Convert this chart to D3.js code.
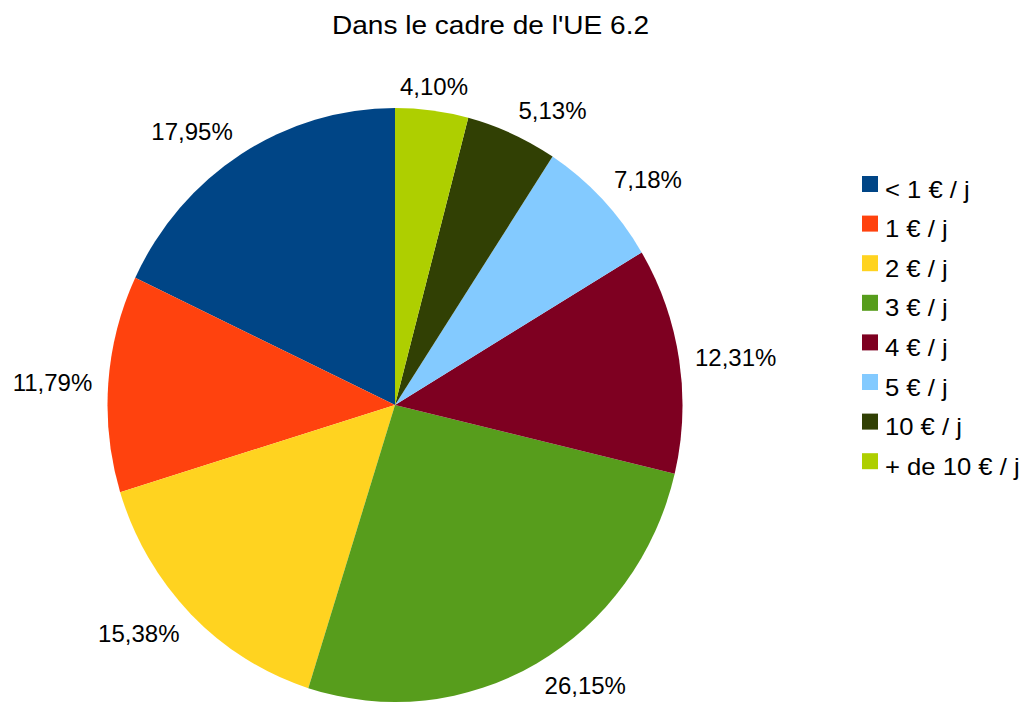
<!DOCTYPE html>
<html>
<head>
<meta charset="utf-8">
<script src="https://cdn.jsdelivr.net/npm/d3@7/dist/d3.min.js"></script>
<style>
  body { margin: 0; background: #fff; }
  svg text { font-family: "Liberation Sans", Arial, sans-serif; fill: #000; }
</style>
</head>
<body>
<div id="chart"></div>
<script>
  // données
  let categories = ['< 1 € / j', '1 € / j', '2 € / j', '3 € / j', '4 € / j', '5 € / j', '10 € / j', '+ de 10 € / j'];
  let values = [17.95, 11.79, 15.38, 26.15, 12.31, 7.18, 5.13, 4.10];
  let labels = ['17,95%', '11,79%', '15,38%', '26,15%', '12,31%', '7,18%', '5,13%', '4,10%'];
  let colors = ['#004586', '#ff420e', '#ffd320', '#579d1c', '#7e0021', '#83caff', '#314004', '#aecf00'];

  let width = 1026;
  let height = 706;
  let cx = 395;
  let cy = 405;
  let rx = 287.5;
  let ry = 297;

  let svg = d3.select('#chart').append('svg')
    .attr('width', width)
    .attr('height', height);

  svg.append('text')
    .attr('transform', 'translate(490.5,34) scale(1.1,1)')
    .attr('text-anchor', 'middle')
    .style('font-size', '25.5px')
    .text("Dans le cadre de l'UE 6.2");

  let color = d3.scaleOrdinal()
    .domain(categories)
    .range(colors);

  // sens anti-horaire depuis midi
  let pie = d3.pie()
    .sort(null)
    .startAngle(0)
    .endAngle(-2 * Math.PI)
    .value(function(d) { return d; });

  let arc = d3.arc()
    .innerRadius(0)
    .outerRadius(rx);

  let arcs = pie(values);

  // le camembert est légèrement étiré verticalement
  let main = svg.append('g')
    .attr('transform', 'translate(' + cx + ',' + cy + ') scale(1,' + (ry / rx) + ')');

  main.selectAll('path.slice')
    .data(arcs)
    .enter().append('path')
    .attr('class', 'slice')
    .attr('d', arc)
    .attr('fill', function(d, i) { return color(categories[i]); });

  // étiquettes : coin de la boîte collé au point extérieur
  let labelGroup = svg.append('g')
    .attr('transform', 'translate(' + cx + ',' + cy + ')');

  labelGroup.selectAll('text.lbl')
    .data(arcs)
    .enter().append('text')
    .attr('class', 'lbl')
    .attr('text-anchor', 'middle')
    .attr('dy', '0.35em')
    .style('font-size', '24px')
    .text(function(d, i) { return labels[i]; })
    .each(function(d) {
      let a = (d.startAngle + d.endAngle) / 2;
      let w = this.getComputedTextLength();
      let h = 17;
      let s = Math.sin(a);
      let c = -Math.cos(a);
      let px = s * (rx + 16);
      let py = c * (ry + 16);
      let hx = s > 0.38 ? 1 : (s < -0.38 ? -1 : 0);
      let vy = c > 0.38 ? 1 : (c < -0.38 ? -1 : 0);
      d3.select(this)
        .attr('x', px + hx * w / 2)
        .attr('y', py + vy * h / 2);
    });

  // légende
  let legend = svg.append('g')
    .attr('transform', 'translate(862,176)');

  let rows = legend.selectAll('g.row')
    .data(categories)
    .enter().append('g')
    .attr('class', 'row')
    .attr('transform', function(d, i) { return 'translate(0,' + (i * 39.6) + ')'; });

  rows.append('rect')
    .attr('width', 16)
    .attr('height', 16)
    .attr('fill', function(d) { return color(d); });

  rows.append('text')
    .attr('transform', 'translate(23,21.5) scale(1.1,1)')
    .style('font-size', '23.3px')
    .text(function(d) { return d; });
</script>
</body>
</html>
